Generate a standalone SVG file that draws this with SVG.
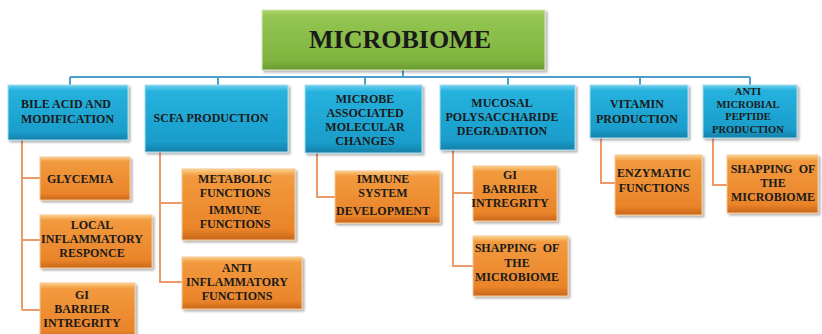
<svg xmlns="http://www.w3.org/2000/svg" width="822" height="334" viewBox="0 0 822 334">
  <defs>
    <linearGradient id="gGreen" x1="0" y1="0" x2="0" y2="1">
      <stop offset="0" stop-color="#a9d466"/>
      <stop offset="0.12" stop-color="#93c552"/>
      <stop offset="0.85" stop-color="#7fb33e"/>
      <stop offset="1" stop-color="#6a9a30"/>
    </linearGradient>
    <linearGradient id="gBlue" x1="0" y1="0" x2="0" y2="1">
      <stop offset="0" stop-color="#6fd0ee"/>
      <stop offset="0.1" stop-color="#26b2de"/>
      <stop offset="0.85" stop-color="#1a9dcb"/>
      <stop offset="1" stop-color="#137fa6"/>
    </linearGradient>
    <linearGradient id="gOrange" x1="0" y1="0" x2="0" y2="1">
      <stop offset="0" stop-color="#fbd08a"/>
      <stop offset="0.1" stop-color="#f29a3e"/>
      <stop offset="0.85" stop-color="#ea842a"/>
      <stop offset="1" stop-color="#c9661a"/>
    </linearGradient>
    <filter id="shadow" x="-10%" y="-10%" width="125%" height="130%">
      <feDropShadow dx="2" dy="2" stdDeviation="1.2" flood-color="#000" flood-opacity="0.3"/>
    </filter>
  </defs>
  <style>
    .root { fill: url(#gGreen); stroke: #d7e6bf; stroke-width: 1; filter: url(#shadow); }
    .cat { fill: url(#gBlue); stroke: #a9dced; stroke-width: 1; filter: url(#shadow); }
    .leaf { fill: url(#gOrange); stroke: #f6c894; stroke-width: 1; filter: url(#shadow); }
    .lbl { font-family: "Liberation Serif", "Times New Roman", serif; font-weight: bold; fill: #1a1a1a; text-anchor: middle; }
    .start { text-anchor: start; }
    .c1 { font-size: 12px; }
    .c2 { font-size: 10.5px; }
    .blueLine { fill: none; stroke: #4c9fc6; stroke-width: 2; }
    .orangeLine { fill: none; stroke: #e99a68; stroke-width: 2; }
  </style>

  <!-- connectors -->
  <g id="connectors">
    <path class="blueLine" d="M403 70 V77 M70 77 H750 M70 77 V85 M218 77 V85 M365 77 V85 M508 77 V85 M640 77 V85 M750 77 V85"/>
    <path class="orangeLine" d="M22 140 V310 M22 178 H40 M22 240 H40 M22 310 H40"/>
    <path class="orangeLine" d="M160 152 V282 H182 M160 203 H182"/>
    <path class="orangeLine" d="M317 153 V197 H335"/>
    <path class="orangeLine" d="M453 150 V266 H473 M453 193 H473"/>
    <path class="orangeLine" d="M601 138 V183 H615"/>
    <path class="orangeLine" d="M713 138 V185 H727"/>
  </g>

  <!-- root -->
  <g id="microbiome">
    <rect class="root" x="262" y="10" width="283" height="60"/>
    <text class="lbl" x="400" y="48" font-size="26px">MICROBIOME</text>
  </g>

  <!-- categories -->
  <g id="bile-acid">
    <rect class="cat" x="8" y="85" width="120" height="55"/>
    <text class="lbl c1 start" x="21" y="108">BILE ACID AND</text>
    <text class="lbl c1 start" x="21" y="123">MODIFICATION</text>
  </g>
  <g id="scfa">
    <rect class="cat" x="145" y="85" width="143" height="67"/>
    <text class="lbl c1" x="211" y="122">SCFA PRODUCTION</text>
  </g>
  <g id="microbe-associated">
    <rect class="cat" x="305" y="85" width="117" height="68"/>
    <text class="lbl c1" x="365" y="103">MICROBE</text>
    <text class="lbl c1" x="365" y="117">ASSOCIATED</text>
    <text class="lbl c1" x="365" y="131">MOLECULAR</text>
    <text class="lbl c1" x="365" y="145">CHANGES</text>
  </g>
  <g id="mucosal">
    <rect class="cat" x="440" y="85" width="135" height="65"/>
    <text class="lbl c1" x="502" y="107">MUCOSAL</text>
    <text class="lbl c1" x="502" y="121">POLYSACCHARIDE</text>
    <text class="lbl c1" x="502" y="135">DEGRADATION</text>
  </g>
  <g id="vitamin">
    <rect class="cat" x="590" y="85" width="98" height="53"/>
    <text class="lbl c1" x="637" y="108">VITAMIN</text>
    <text class="lbl c1" x="637" y="123">PRODUCTION</text>
  </g>
  <g id="antimicrobial">
    <rect class="cat" x="703" y="85" width="94" height="53"/>
    <text class="lbl c2" x="748" y="95">ANTI</text>
    <text class="lbl c2" x="748" y="108">MICROBIAL</text>
    <text class="lbl c2" x="748" y="120">PEPTIDE</text>
    <text class="lbl c2" x="748" y="133">PRODUCTION</text>
  </g>

  <!-- leaves -->
  <g id="glycemia">
    <rect class="leaf" x="40" y="157" width="90" height="43"/>
    <text class="lbl c1" x="80" y="183">GLYCEMIA</text>
  </g>
  <g id="local-inflammatory">
    <rect class="leaf" x="40" y="215" width="112" height="53"/>
    <text class="lbl c1" x="92" y="229">LOCAL</text>
    <text class="lbl c1" x="92" y="243">INFLAMMATORY</text>
    <text class="lbl c1" x="92" y="257">RESPONCE</text>
  </g>
  <g id="gi-barrier-1">
    <rect class="leaf" x="40" y="283" width="95" height="56"/>
    <text class="lbl c1" x="82" y="299">GI</text>
    <text class="lbl c1" x="82" y="313">BARRIER</text>
    <text class="lbl c1" x="82" y="327">INTREGRITY</text>
  </g>
  <g id="metabolic-immune">
    <rect class="leaf" x="182" y="169" width="113" height="71"/>
    <text class="lbl c1" x="235" y="183">METABOLIC</text>
    <text class="lbl c1" x="235" y="197">FUNCTIONS</text>
    <text class="lbl c1" x="235" y="214">IMMUNE</text>
    <text class="lbl c1" x="235" y="228">FUNCTIONS</text>
  </g>
  <g id="anti-inflammatory">
    <rect class="leaf" x="182" y="257" width="120" height="52"/>
    <text class="lbl c1" x="237" y="272">ANTI</text>
    <text class="lbl c1" x="237" y="286">INFLAMMATORY</text>
    <text class="lbl c1" x="237" y="300">FUNCTIONS</text>
  </g>
  <g id="immune-system">
    <rect class="leaf" x="335" y="171" width="105" height="52"/>
    <text class="lbl c1" x="383" y="183">IMMUNE</text>
    <text class="lbl c1" x="383" y="197">SYSTEM</text>
    <text class="lbl c1" x="383" y="215">DEVELOPMENT</text>
  </g>
  <g id="gi-barrier-2">
    <rect class="leaf" x="473" y="166" width="84" height="55"/>
    <text class="lbl c1" x="510" y="179">GI</text>
    <text class="lbl c1" x="510" y="193">BARRIER</text>
    <text class="lbl c1" x="510" y="207">INTREGRITY</text>
  </g>
  <g id="shapping-1">
    <rect class="leaf" x="473" y="236" width="95" height="60"/>
    <text class="lbl c1" x="517" y="252" xml:space="preserve">SHAPPING  OF</text>
    <text class="lbl c1" x="517" y="267">THE</text>
    <text class="lbl c1" x="517" y="281">MICROBIOME</text>
  </g>
  <g id="enzymatic">
    <rect class="leaf" x="615" y="155" width="87" height="60"/>
    <text class="lbl c1" x="654" y="177">ENZYMATIC</text>
    <text class="lbl c1" x="654" y="192">FUNCTIONS</text>
  </g>
  <g id="shapping-2">
    <rect class="leaf" x="727" y="155" width="91" height="58"/>
    <text class="lbl c1" x="773" y="173" xml:space="preserve">SHAPPING  OF</text>
    <text class="lbl c1" x="773" y="187">THE</text>
    <text class="lbl c1" x="773" y="201">MICROBIOME</text>
  </g>
</svg>
